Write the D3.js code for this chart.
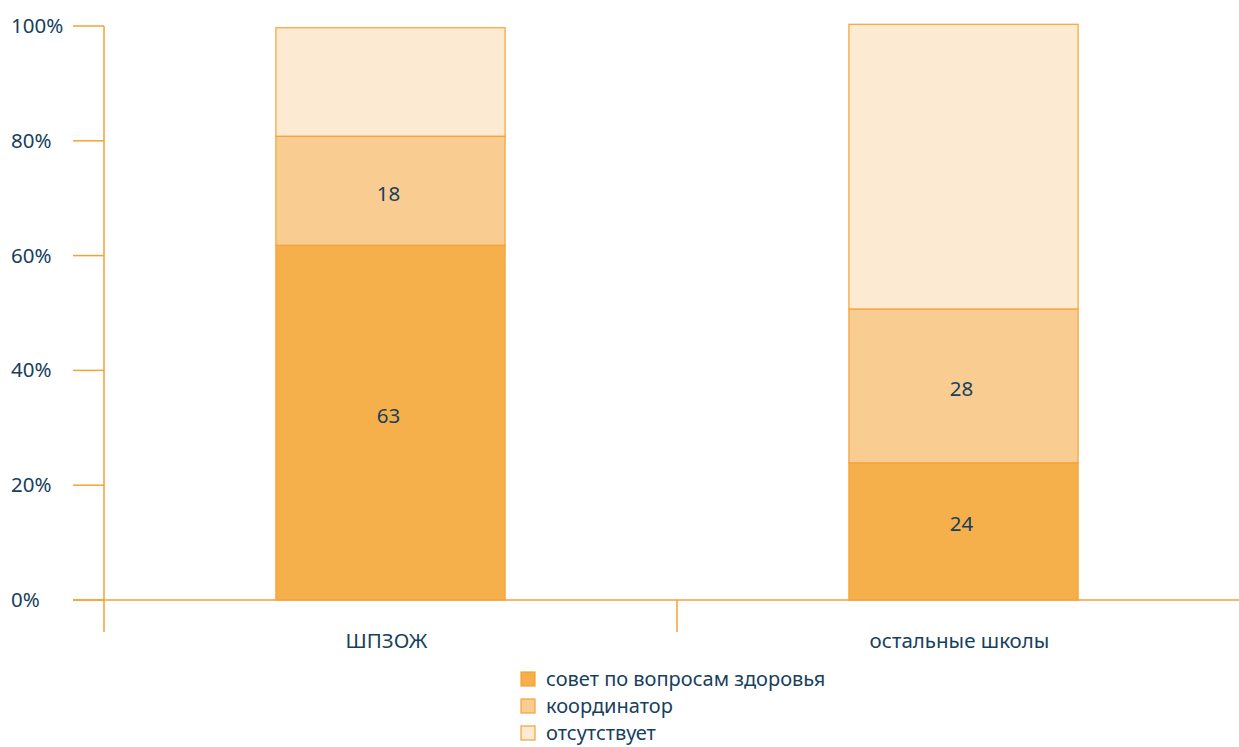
<!DOCTYPE html>
<html>
<head>
<meta charset="utf-8">
<script src="https://cdn.jsdelivr.net/npm/d3@7"></script>
<style>
  body { margin: 0; background: #fff; }
  text { font-family: "Noto Sans", sans-serif; fill: #17405d; }
</style>
</head>
<body>
<div id="chart"></div>
<script>
// categories and series (percent of schools)
const categories = ["ШПЗОЖ", "остальные школы"]
const seriesNames = ["совет по вопросам здоровья", "координатор", "отсутствует"]
const council = [61.8, 23.9]
const coordinator = [19.0, 26.8]
const absent = [18.9, 49.6]
// printed labels on the segments
const councilLabels = ["63", "24"]
const coordinatorLabels = ["18", "28"]
const yTicks = [0, 20, 40, 60, 80, 100]

const fills = ["#f5b04b", "#f9cd91", "#fdead3"]
const stroke = "#f5a234"

const width = 1239, height = 747
const svg = d3.select("#chart").append("svg").attr("width", width).attr("height", height)

const x = d3.scaleBand().domain(categories).range([104, 1250])
const y = d3.scaleLinear().domain([0, 100]).range([600, 26])

// build stacked rows
const rows = categories.map((c, i) => ({
  cat: c,
  values: [council[i], coordinator[i], absent[i]],
  labels: [councilLabels[i], coordinatorLabels[i], null]
}))

const barW = x.bandwidth() * 0.4

//axes
const axis = svg.append("g").attr("stroke", stroke).attr("stroke-width", 1.5)
axis.append("line").attr("x1", x.range()[0]).attr("x2", x.range()[0]).attr("y1", y(100)).attr("y2", 632)
axis.append("line").attr("x1", 73).attr("x2", width).attr("y1", y(0)).attr("y2", y(0))
axis.selectAll(".ytick").data(yTicks).join("line")
  .attr("x1", 73).attr("x2", x.range()[0])
  .attr("y1", d => y(d)).attr("y2", d => y(d))
axis.selectAll(".xtick").data(categories.slice(1)).join("line")
  .attr("x1", d => x(d)).attr("x2", d => x(d))
  .attr("y1", y(0)).attr("y2", 632)

svg.selectAll(".ylabel").data(yTicks).join("text")
  .attr("x", 11).attr("y", d => y(d) + 7)
  .style("font-size", "20.5px")
  .text(d => d + "%")

// bars
const bars = svg.selectAll(".bar").data(rows).join("g")
  .attr("transform", d => `translate(${x(d.cat) + (x.bandwidth() - barW) / 2},0)`)

bars.each(function (d) {
  let g = d3.select(this)
  let acc = 0
  d.values.forEach((v, i) => {
    let y0 = acc, y1 = acc + v
    acc = y1
    g.append("rect")
      .attr("x", 0).attr("width", barW)
      .attr("y", y(y1)).attr("height", y(y0) - y(y1))
      .attr("fill", fills[i])
      .attr("stroke", stroke).attr("stroke-width", 1.2)
    if (d.labels[i]) {
      g.append("text")
        .attr("x", barW / 2 - 2).attr("y", (y(y0) + y(y1)) / 2 + 10 - (i === 0 ? 10 : 0))
        .attr("text-anchor", "middle")
        .style("font-size", "20.5px")
        .text(d.labels[i])
    }
  })
})

// category labels
svg.selectAll(".xlabel").data(categories).join("text")
  .attr("x", d => x(d) + x.bandwidth() / 2 - 4)
  .attr("y", 648)
  .attr("text-anchor", "middle")
  .style("font-size", "20.5px")
  .text(d => d)

// legend
const legend = svg.append("g").attr("transform", "translate(521,672)")
const items = legend.selectAll("g").data(seriesNames).join("g")
  .attr("transform", (d, i) => `translate(0,${i * 27})`)
items.append("rect").attr("width", 14).attr("height", 14)
  .attr("fill", (d, i) => fills[i]).attr("stroke", stroke).attr("stroke-width", 1.2)
items.append("text").attr("x", 25).attr("y", 14).style("font-size", "20px").text(d => d)
</script>
</body>
</html>
